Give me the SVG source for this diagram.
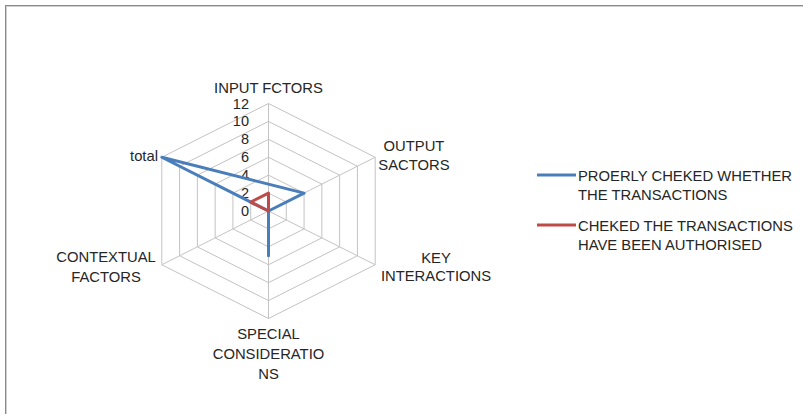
<svg xmlns="http://www.w3.org/2000/svg" width="803" height="414" viewBox="0 0 803 414">
<style>
.t{font-family:"Liberation Sans",Arial,sans-serif;font-size:14.8px;fill:#262626}
.n{font-family:"Liberation Sans",Arial,sans-serif;font-size:14.5px;fill:#262626;text-anchor:end}
.c{text-anchor:middle}
.grid{fill:none;stroke:#c3c3c3;stroke-width:1}
.blue{fill:none;stroke:#4a7ebb;stroke-width:3;stroke-linejoin:round;stroke-linecap:round}
.red{fill:none;stroke:#be4b48;stroke-width:3;stroke-linejoin:round;stroke-linecap:round}
</style>
<rect x="0" y="0" width="803" height="414" fill="#fff"/>
<rect x="5.5" y="5.5" width="830" height="440" fill="none" stroke="#8a8a8a" stroke-width="1"/>
<rect x="6.5" y="6.5" width="830" height="440" fill="none" stroke="#cfcfcf" stroke-width="1"/>
<g id="grid">
<polygon class="grid" points="268.5,193.08 286.28,202.04 286.28,219.96 268.5,228.92 250.72,219.96 250.72,202.04"/>
<polygon class="grid" points="268.5,175.17 304.07,193.08 304.07,228.92 268.5,246.83 232.93,228.92 232.93,193.08"/>
<polygon class="grid" points="268.5,157.25 321.85,184.12 321.85,237.88 268.5,264.75 215.15,237.88 215.15,184.12"/>
<polygon class="grid" points="268.5,139.33 339.63,175.17 339.63,246.83 268.5,282.67 197.37,246.83 197.37,175.17"/>
<polygon class="grid" points="268.5,121.42 357.42,166.21 357.42,255.79 268.5,300.58 179.58,255.79 179.58,166.21"/>
<polygon class="grid" points="268.5,103.5 375.2,157.25 375.2,264.75 268.5,318.5 161.8,264.75 161.8,157.25"/>
<path class="grid" d="M268.5,211L268.5,103.5M268.5,211L375.2,157.25M268.5,211L375.2,264.75M268.5,211L268.5,318.5M268.5,211L161.8,264.75M268.5,211L161.8,157.25"/>
</g>
<g id="scale">
<text class="n" x="249" y="108.5">12</text>
<text class="n" x="249" y="126.4">10</text>
<text class="n" x="249" y="144.3">8</text>
<text class="n" x="249" y="162.2">6</text>
<text class="n" x="249" y="180.1">4</text>
<text class="n" x="249" y="198">2</text>
<text class="n" x="249" y="215.9">0</text>
</g>
<g id="axis-labels">
<g id="input"><text class="t c" x="268.5" y="93">INPUT FCTORS</text></g>
<g id="output"><text class="t c" x="414" y="151">OUTPUT</text><text class="t c" x="414" y="169.5">SACTORS</text></g>
<g id="key"><text class="t c" x="436" y="263">KEY</text><text class="t c" x="436" y="281">INTERACTIONS</text></g>
<g id="special"><text class="t c" x="268.5" y="339">SPECIAL</text><text class="t c" x="268.5" y="358.5">CONSIDERATIO</text><text class="t c" x="268.5" y="379">NS</text></g>
<g id="contextual"><text class="t c" x="106" y="261.5">CONTEXTUAL</text><text class="t c" x="106" y="281.5">FACTORS</text></g>
<g id="total"><text class="t" x="158" y="160.5" text-anchor="end">total</text></g>
</g>
<g id="series">
<path class="blue" d="M268.5,211L304.07,193.08L161.8,157.25Z M268.5,211L268.5,255.79"/>
<path class="red" d="M268.5,193.08L268.5,211L250.72,202.04Z"/>
</g>
<g id="legend">
<line x1="537" y1="175" x2="576" y2="175" stroke="#4a7ebb" stroke-width="3"/>
<text class="t" x="578" y="180.5">PROERLY CHEKED WHETHER</text>
<text class="t" x="578" y="199.5">THE TRANSACTIONS</text>
<line x1="537" y1="225" x2="576" y2="225" stroke="#be4b48" stroke-width="3"/>
<text class="t" x="578" y="230.5">CHEKED THE TRANSACTIONS</text>
<text class="t" x="578" y="249.5">HAVE BEEN AUTHORISED</text>
</g>
</svg>
